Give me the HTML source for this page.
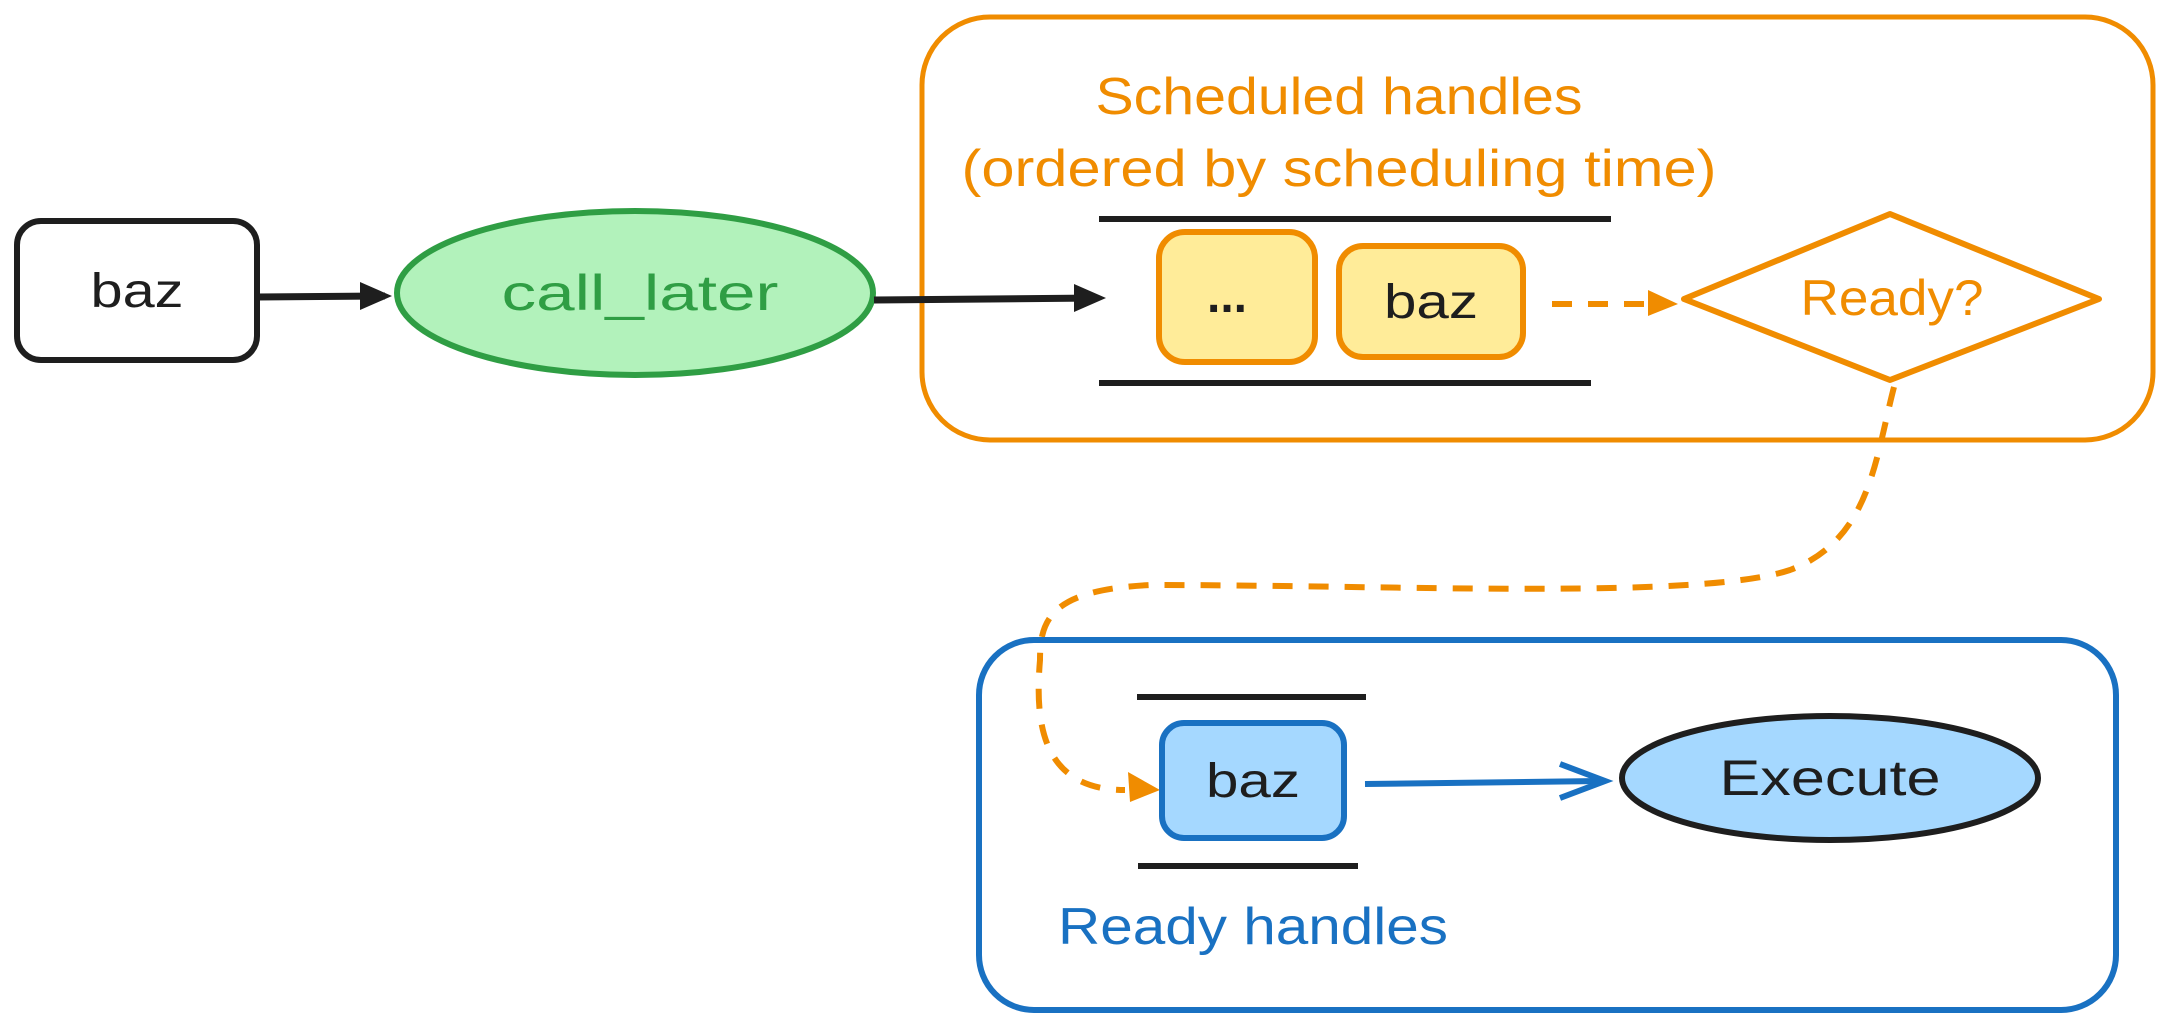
<!DOCTYPE html>
<html><head><meta charset="utf-8"><style>
html,body{margin:0;padding:0;background:#fff;}
svg{display:block;}
text{font-family:"Liberation Sans",sans-serif;}
</style></head><body>
<svg width="2168" height="1029" viewBox="0 0 2168 1029" xmlns="http://www.w3.org/2000/svg">
<!-- orange container -->
<rect x="922" y="17" width="1231" height="423" rx="68" fill="none" stroke="#f08c00" stroke-width="5"/>
<text x="1339" y="114" font-size="52" fill="#f08c00" text-anchor="middle" textLength="487" lengthAdjust="spacingAndGlyphs">Scheduled handles</text>
<text x="1339" y="186" font-size="52" fill="#f08c00" text-anchor="middle" textLength="755" lengthAdjust="spacingAndGlyphs">(ordered by scheduling time)</text>
<line x1="1099" y1="219" x2="1611" y2="219" stroke="#1e1e1e" stroke-width="6"/>
<line x1="1099" y1="383" x2="1591" y2="383" stroke="#1e1e1e" stroke-width="6"/>
<rect x="1159" y="232" width="156" height="130" rx="26" fill="#ffec99" stroke="#f08c00" stroke-width="6"/>
<text x="1227" y="312" font-size="48" fill="#1e1e1e" text-anchor="middle" font-weight="bold">...</text>
<rect x="1339" y="246" width="184" height="111" rx="24" fill="#ffec99" stroke="#f08c00" stroke-width="6"/>
<text x="1431" y="318" font-size="48" fill="#1e1e1e" text-anchor="middle" textLength="94" lengthAdjust="spacingAndGlyphs">baz</text>
<line x1="1552" y1="304" x2="1660" y2="304" stroke="#f08c00" stroke-width="6" stroke-dasharray="20 16"/>
<path d="M1648,290 L1678,304 L1648,316 Z" fill="#f08c00"/>
<path d="M1684,299 L1890,214 L2099,299 L1890,380 Z" fill="#fff" stroke="#f08c00" stroke-width="6" stroke-linejoin="round"/>
<text x="1892" y="315" font-size="50" fill="#f08c00" text-anchor="middle" textLength="183" lengthAdjust="spacingAndGlyphs">Ready?</text>
<!-- dashed curve -->
<path d="M1894,387 C1875,460 1870,540 1790,570 C1700,600 1400,585 1150,585 C1050,590 1040,620 1040,660 C1035,720 1040,790 1125,790" fill="none" stroke="#f08c00" stroke-width="6" stroke-dasharray="20 16"/>
<path d="M1128,772 L1160,790 L1130,802 Z" fill="#f08c00"/>
<!-- blue container -->
<rect x="979" y="640" width="1137" height="370" rx="55" fill="none" stroke="#1971c2" stroke-width="6"/>
<line x1="1137" y1="697" x2="1366" y2="697" stroke="#1e1e1e" stroke-width="6"/>
<line x1="1138" y1="866" x2="1358" y2="866" stroke="#1e1e1e" stroke-width="6"/>
<rect x="1162" y="723" width="182" height="115" rx="22" fill="#a5d8ff" stroke="#1971c2" stroke-width="6"/>
<text x="1253" y="797" font-size="48" fill="#1e1e1e" text-anchor="middle" textLength="94" lengthAdjust="spacingAndGlyphs">baz</text>
<line x1="1365" y1="784" x2="1600" y2="781" stroke="#1971c2" stroke-width="6"/>
<path d="M1560,764 L1605,781 L1560,798" fill="none" stroke="#1971c2" stroke-width="6"/>
<ellipse cx="1830" cy="778" rx="208" ry="62" fill="#a5d8ff" stroke="#1e1e1e" stroke-width="6"/>
<text x="1830" y="795" font-size="50" fill="#1e1e1e" text-anchor="middle" textLength="221" lengthAdjust="spacingAndGlyphs">Execute</text>
<text x="1058" y="944" font-size="52" fill="#1971c2" textLength="390" lengthAdjust="spacingAndGlyphs">Ready handles</text>
<!-- left -->
<rect x="17" y="221" width="240" height="139" rx="24" fill="#fff" stroke="#1e1e1e" stroke-width="6"/>
<text x="137" y="307" font-size="48" fill="#1e1e1e" text-anchor="middle" textLength="93" lengthAdjust="spacingAndGlyphs">baz</text>
<line x1="257" y1="297" x2="385" y2="296" stroke="#1e1e1e" stroke-width="7"/>
<path d="M360,282 L392,296 L360,310 Z" fill="#1e1e1e"/>
<ellipse cx="635" cy="293" rx="238" ry="82" fill="#b2f2bb" stroke="#2f9e44" stroke-width="6"/>
<text x="640" y="310" font-size="50" fill="#2f9e44" text-anchor="middle" textLength="277" lengthAdjust="spacingAndGlyphs">call_later</text>
<line x1="874" y1="300" x2="1098" y2="298" stroke="#1e1e1e" stroke-width="7"/>
<path d="M1074,284 L1106,298 L1074,312 Z" fill="#1e1e1e"/>
</svg>
</body></html>
